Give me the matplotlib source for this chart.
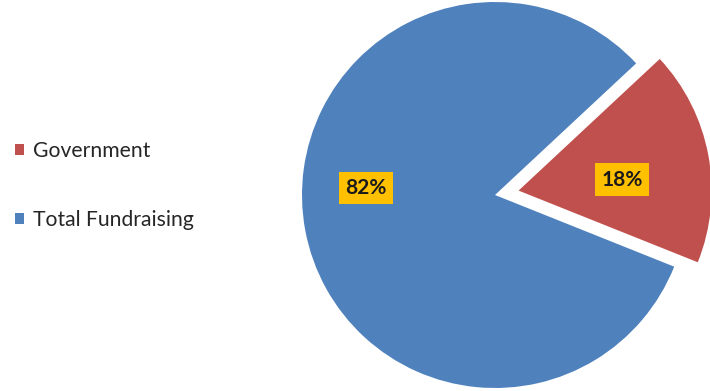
import numpy as np
import matplotlib.pyplot as plt

labels = ["Government", "Total Fundraising"]
shares = [18, 82]
colors = ["#C0504D", "#4F81BD"]

plt.rcParams['font.family'] = ['Lato', 'DejaVu Sans']

fig = plt.figure(figsize=(7.1, 3.91), dpi=100)
ax = fig.add_axes([0, 0, 1, 1])

# pie in pixel-like data units (explode is in data units too)
cx, cy, r = 495, 196, 193
wedges, texts, autotexts = ax.pie(shares, colors=colors, explode=[24, 0],
                                  startangle=43, counterclock=False,
                                  center=(cx, cy), radius=r,
                                  autopct="%d%%", pctdistance=0.6,
                                  wedgeprops=dict(linewidth=0))
ax.set_xlim(0, 710)
ax.set_ylim(0, 391)
ax.set_aspect('equal')
ax.axis('off')

# nudge percentage labels toward where they sit in the original
label_pos = [(6, 0.54), (177, 0.67)]
for w, t, (ang, dist) in zip(wedges, autotexts, label_pos):
    wx, wy = w.center
    a = np.deg2rad(ang)
    t.set_position((wx + dist * r * np.cos(a), wy + dist * r * np.sin(a)))
    t.set_fontsize(15)
    t.set_fontweight('bold')
    t.set_color('#1a1a1a')
    t.set_bbox(dict(boxstyle='square,pad=0.3', facecolor='#FFC000',
                    edgecolor='none'))

leg = ax.legend(wedges, labels, loc='center left',
                bbox_to_anchor=(0.0, 0.525), frameon=False, borderpad=0.2,
                fontsize=15.2, handlelength=0.42, handleheight=0.42,
                handletextpad=0.45, labelspacing=2.3)
for txt in leg.get_texts():
    txt.set_color('#262626')

fig.savefig("out.png", dpi=100)
